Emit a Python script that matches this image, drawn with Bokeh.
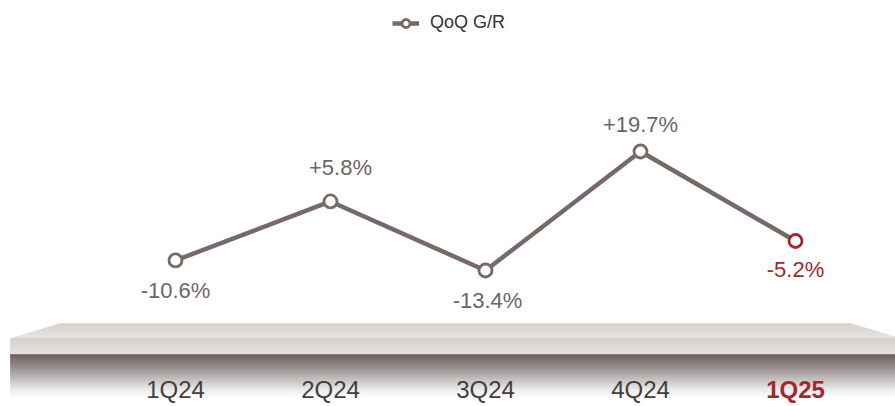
from bokeh.plotting import figure
from bokeh.models import Range1d, ColumnDataSource, Legend, LegendItem
from bokeh.embed import file_html
from bokeh.resources import INLINE
from bokeh.core.properties import value

# ---- data ----
categories = ["1Q24", "2Q24", "3Q24", "4Q24", "1Q25"]
qoq_gr = [-10.6, 5.8, -13.4, 19.7, -5.2]
value_labels = ["-10.6%", "+5.8%", "-13.4%", "+19.7%", "-5.2%"]
series_name = "QoQ G/R"

# ---- style ----
W, H = 895, 406
GREY = "#766a67"
RED = "#a0292b"
LABEL_GREY = "#6f6563"
FONT = "Liberation Sans"
label_dx = [0, 10, 2, 0, 0]
label_dy = [30, -34, 30, -27, 28]

x0, x1 = -1.1290, 4.6452
y0, y1 = -51.23, 61.70

def sx(px):
    return x0 + px / W * (x1 - x0)

def sy(py):
    return y1 - py / H * (y1 - y0)

p = figure(width=W, height=H, output_backend="svg", toolbar_location=None,
           x_range=Range1d(x0, x1), y_range=Range1d(y0, y1),
           min_border=0, min_border_left=0, min_border_right=0,
           min_border_top=0, min_border_bottom=0)
p.axis.visible = False
p.grid.visible = False
p.outline_line_color = None
p.background_fill_color = "white"
p.border_fill_color = "white"

def lerp_col(c1, c2, t):
    a = [int(c1[i:i + 2], 16) for i in (1, 3, 5)]
    b = [int(c2[i:i + 2], 16) for i in (1, 3, 5)]
    return "#%02x%02x%02x" % tuple(round(a[k] + (b[k] - a[k]) * t) for k in range(3))

# ---- shelf (decoration) ----
xs, ys, cols = [], [], []
top0, top1 = 323, 338
for i in range(top1 - top0):
    ya, yb = top0 + i, top0 + i + 1
    la = 60 + (10 - 60) * (i / (top1 - top0))
    lb = 60 + (10 - 60) * ((i + 1) / (top1 - top0))
    ra = 850 + (900 - 850) * (i / (top1 - top0))
    rb = 850 + (900 - 850) * ((i + 1) / (top1 - top0))
    xs.append([sx(la), sx(ra), sx(rb), sx(lb)])
    ys.append([sy(ya), sy(ya), sy(yb), sy(yb)])
    cols.append(lerp_col("#d5cecc", "#e6e2e0", i / (top1 - top0 - 1)))
for i in range(354 - 338):
    ya, yb = 338 + i, 339 + i
    xs.append([sx(10), sx(900), sx(900), sx(10)])
    ys.append([sy(ya), sy(ya), sy(yb), sy(yb)])
    cols.append(lerp_col("#d4cccb", "#e4dfde", i / 15))
n = 398 - 354
for i in range(n):
    ya, yb = 354 + i, 355 + i
    t = i / (n - 1)
    if t < 0.4:
        c = lerp_col("#625655", "#a39a99", t / 0.4)
    elif t < 0.8:
        c = lerp_col("#a39a99", "#e9e6e6", (t - 0.4) / 0.4)
    else:
        c = lerp_col("#e9e6e6", "#ffffff", (t - 0.8) / 0.2)
    xs.append([sx(10), sx(900), sx(900), sx(10)])
    ys.append([sy(ya), sy(ya), sy(yb), sy(yb)])
    cols.append(c)
p.patches(xs=xs, ys=ys, fill_color=cols, line_color=cols, line_width=0.5)

# ---- series ----
idx = list(range(len(categories)))
marker_cols = [GREY] * (len(categories) - 1) + [RED]
label_cols = [LABEL_GREY] * (len(categories) - 1) + [RED]
src = ColumnDataSource(dict(x=idx, y=qoq_gr, mc=marker_cols, lab=value_labels,
                            lc=label_cols, dx=label_dx, dy=label_dy))
line_r = p.line("x", "y", source=src, line_color=GREY, line_width=4.5)
pts_r = p.scatter("x", "y", source=src, size=13, fill_color="white",
                  line_color="mc", line_width=2.8)
p.text("x", "y", text="lab", source=src, x_offset="dx", y_offset="dy",
       text_color="lc", text_font=value(FONT), text_font_size="22px",
       text_align="center", text_baseline="middle")

# category labels
cat_cols = ["#404040"] * (len(categories) - 1) + [RED]
cat_style = ["normal"] * (len(categories) - 1) + ["bold"]
csrc = ColumnDataSource(dict(x=idx, y=[sy(389)] * len(categories), t=categories,
                             c=cat_cols, s=cat_style))
p.text("x", "y", text="t", source=csrc, text_color="c", text_font_style="s",
       text_font=value(FONT), text_font_size="24px",
       text_align="center", text_baseline="middle")

# legend
legend = Legend(items=[LegendItem(label=series_name, renderers=[line_r, pts_r], index=0)],
                location=(392, 373), orientation="horizontal",
                label_text_font=FONT, label_text_font_size="18px",
                label_text_color="#333333", glyph_width=27, glyph_height=20,
                label_standoff=11, padding=0, margin=0, spacing=0,
                border_line_color=None, background_fill_alpha=0)
p.add_layout(legend)

open("out.html", "w").write(file_html(p, INLINE))
